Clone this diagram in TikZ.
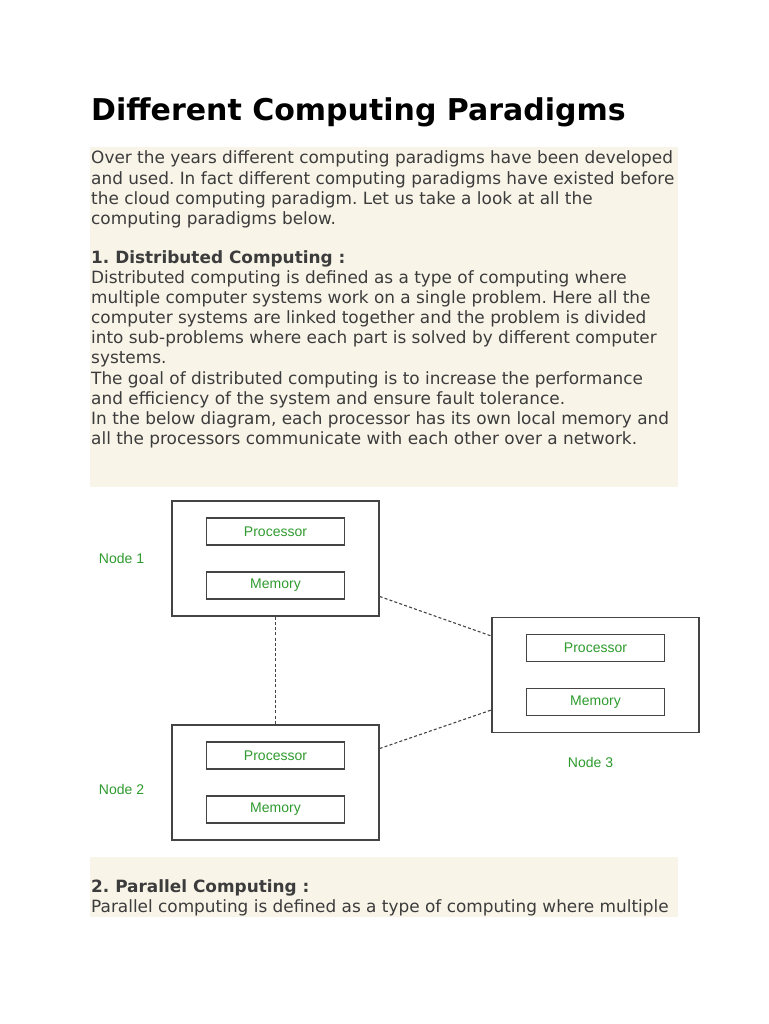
\documentclass[tikz,border=0pt]{standalone}
\usepackage{fontspec}
\setmainfont{DejaVu Sans}
\newfontfamily\diagfont{Liberation Sans}
\usetikzlibrary{positioning}
\definecolor{paper}{HTML}{F8F4E8}
\definecolor{bodytext}{HTML}{3C3C3C}
\definecolor{labelgreen}{HTML}{2E9B2E}
\definecolor{boxline}{HTML}{444444}
\frenchspacing

\begin{document}
\begin{tikzpicture}[x=1pt,y=-1pt,
  textline/.style={anchor=base west,inner sep=0pt,align=left,text=bodytext,
    font=\fontsize{16.9}{20.2}\selectfont},
  nodebox/.style={draw=boxline,line width=1.4pt,minimum width=207pt,minimum height=115pt,inner sep=0pt},
  partbox/.style={draw=boxline,line width=1.4pt,minimum width=138pt,minimum height=27pt,inner sep=0pt,
    text=labelgreen,font=\diagfont\fontsize{14}{16}\selectfont},
  nodelabel/.style={text=labelgreen,inner sep=0pt,font=\diagfont\fontsize{14}{16}\selectfont},
  link/.style={draw=boxline,line width=1.1pt,dash pattern=on 3pt off 2.2pt}]
 \useasboundingbox (0,0) rectangle (768,1024);
 \fill[white] (0,0) rectangle (768,1024);

 % text panels
 \fill[paper] (90,147) rectangle (678,487);
 \fill[paper] (90,857) rectangle (678,917);

 % multi-line nodes: base anchor sits on the last line
 \node[anchor=base west,inner sep=0pt,font=\bfseries\fontsize{30}{34}\selectfont] (title) at (91,121)
   {Different Computing Paradigms};
 \node[textline] (intro) at (91,224.6)
   {Over the years different computing paradigms have been developed\\
    and used. In fact different computing paradigms have existed before\\
    the cloud computing paradigm. Let us take a look at all the\\
    computing paradigms below.};
 \node[textline,font=\bfseries\fontsize{16.9}{20.2}\selectfont] (head1) at (91,263)
   {1. Distributed Computing :};
 \node[textline] (body1) at (91,444.6)
   {Distributed computing is defined as a type of computing where\\
    multiple computer systems work on a single problem. Here all the\\
    computer systems are linked together and the problem is divided\\
    into sub-problems where each part is solved by different computer\\
    systems.\\
    The goal of distributed computing is to increase the performance\\
    and efficiency of the system and ensure fault tolerance.\\
    In the below diagram, each processor has its own local memory and\\
    all the processors communicate with each other over a network.};

 % diagram
 \node[nodebox] (n1) at (275.5,558.5) {};
 \node[partbox,yshift=27pt] (p1) at (n1) {Processor};
 \node[partbox,yshift=-27pt] (m1) at (n1) {Memory};
 \node[nodelabel,left=27pt of n1] (l1) {Node 1};

 \node[nodebox] (n2) at (275.5,782.5) {};
 \node[partbox,yshift=27pt] (p2) at (n2) {Processor};
 \node[partbox,yshift=-27pt] (m2) at (n2) {Memory};
 \node[nodelabel,left=27pt of n2,yshift=-7pt] (l2) {Node 2};

 \node[nodebox] (n3) at (595.5,675) {};
 \node[partbox,yshift=27pt] (p3) at (n3) {Processor};
 \node[partbox,yshift=-27pt] (m3) at (n3) {Memory};
 \node[nodelabel,below=24pt of n3,xshift=-5pt] (l3) {Node 3};

 \draw[link] (n1.south) -- (n2.north);
 \draw[link] ([yshift=-38pt]n1.east) -- ([yshift=39pt]n3.west);
 \draw[link] ([yshift=34pt]n2.east) -- ([yshift=-35pt]n3.west);

 \node[textline,font=\bfseries\fontsize{16.9}{20.2}\selectfont] (head2) at (91,892)
   {2. Parallel Computing :};
 \node[textline] (body2) at (91,912)
   {Parallel computing is defined as a type of computing where multiple};
\end{tikzpicture}
\end{document}
